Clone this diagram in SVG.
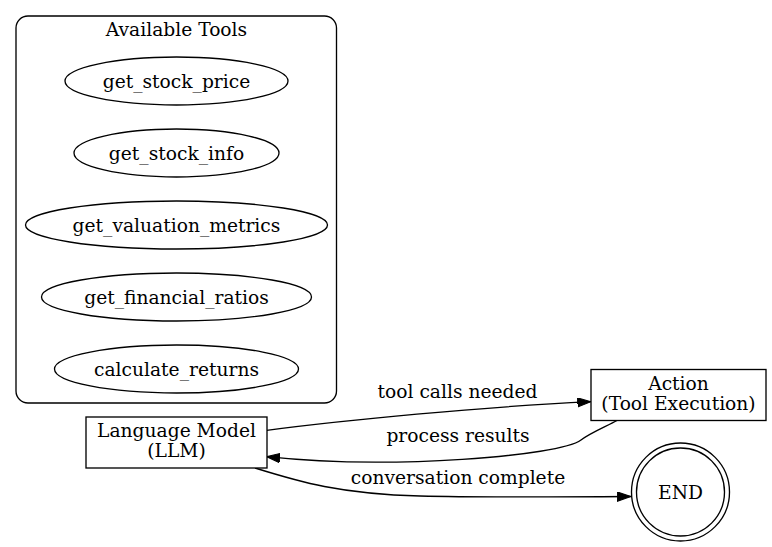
<svg xmlns="http://www.w3.org/2000/svg" width="772" height="547" viewBox="0 0 772 547">
<style>
text{font-family:"DejaVu Serif","Liberation Serif",serif;font-size:18.67px;fill:#000;text-anchor:middle}
.s{fill:none;stroke:#000;stroke-width:1.33}
.n{fill:#fff;stroke:#000;stroke-width:1.33}
</style>
<defs>
<marker id="ah" markerWidth="14" markerHeight="10" refX="13.3" refY="4.67" orient="auto" markerUnits="userSpaceOnUse">
<polygon points="0,0 13.3,4.67 0,9.33" fill="#000" stroke="#000" stroke-width="1"/>
</marker>
</defs>
<rect width="772" height="547" fill="#fff"/>
<g id="cluster_tools">
<rect class="s" x="16" y="16" width="320.5" height="387" rx="12" ry="12"/>
<text x="176.5" y="36">Available Tools</text>
</g>
<g id="get_stock_price">
<ellipse class="n" cx="176.5" cy="81" rx="111.5" ry="24"/>
<text x="176.5" y="87.5">get_stock_price</text>
</g>
<g id="get_stock_info">
<ellipse class="n" cx="176.5" cy="153" rx="102.5" ry="24"/>
<text x="176.5" y="159.5">get_stock_info</text>
</g>
<g id="get_valuation_metrics">
<ellipse class="n" cx="176.5" cy="225" rx="151" ry="24"/>
<text x="176.5" y="231.5">get_valuation_metrics</text>
</g>
<g id="get_financial_ratios">
<ellipse class="n" cx="176.5" cy="297" rx="135" ry="24"/>
<text x="176.5" y="303.5">get_financial_ratios</text>
</g>
<g id="calculate_returns">
<ellipse class="n" cx="176.5" cy="369" rx="122" ry="24"/>
<text x="176.5" y="375.5">calculate_returns</text>
</g>
<g id="connectors">
<path class="s" d="M266.7,430.3 C346,420 480,407 590.7,401.7" marker-end="url(#ah)"/>
<text x="457.5" y="398">tool calls needed</text>
<path class="s" d="M617,420.5 C607,426 590,433 581,440 C560,456 390,470 266.7,456.7" marker-end="url(#ah)"/>
<text x="458" y="442">process results</text>
<path class="s" d="M255,468 C300,482 340,494 420,496 C480,497.5 560,497 630.7,496.5" marker-end="url(#ah)"/>
<text x="458" y="484">conversation complete</text>
</g>
<g id="llm">
<rect class="n" x="86" y="417" width="181" height="51"/>
<text x="176.5" y="437">Language Model</text>
<text x="176.5" y="457">(LLM)</text>
</g>
<g id="action">
<rect class="n" x="591" y="369.5" width="175" height="51"/>
<text x="678.5" y="390">Action</text>
<text x="678.5" y="410">(Tool Execution)</text>
</g>
<g id="end">
<circle class="n" cx="680.5" cy="492" r="49"/>
<circle class="s" cx="680.5" cy="492" r="44"/>
<text x="680.5" y="498.5">END</text>
</g>
</svg>
